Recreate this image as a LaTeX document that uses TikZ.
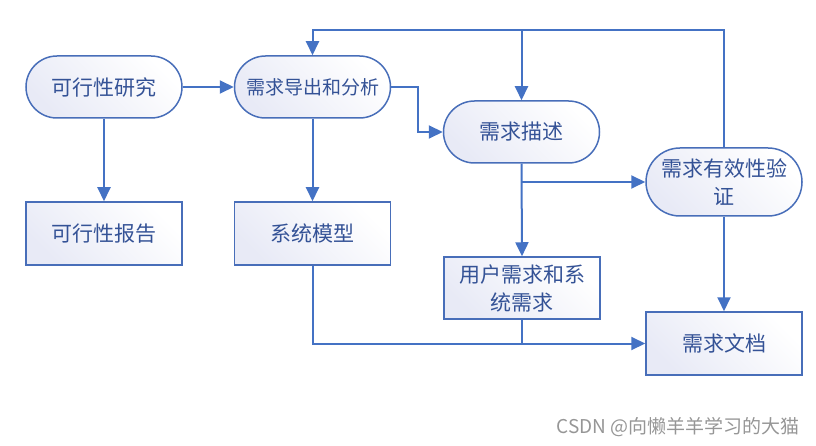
\documentclass[tikz,border=0pt]{standalone}
\usepackage{fontspec}
\setmainfont{Noto Sans CJK SC}
\usetikzlibrary{arrows.meta,calc}
\definecolor{lineblue}{RGB}{68,114,196}
\definecolor{edgeblue}{RGB}{72,110,185}
\definecolor{txtblue}{RGB}{52,82,150}
\definecolor{tint}{RGB}{232,234,246}
\definecolor{wmgray}{RGB}{150,150,150}
\tikzset{
  boxbase/.style={draw=edgeblue, line width=1.5pt, inner sep=0pt, align=center,
    text=txtblue, font=\fontsize{21}{28}\selectfont,
    minimum width=156pt, shading=axis, left color=tint, right color=white, shading angle=135},
  proc/.style={boxbase, rounded corners=31pt, minimum height=62pt},
  proctall/.style={boxbase, rounded corners=34pt, minimum height=68pt},
  doc/.style={boxbase, minimum height=63pt},
  conn/.style={draw=lineblue, line width=2pt},
  arr/.style={conn, -{Triangle[length=14pt,width=13pt]}}
}
\begin{document}
\begin{tikzpicture}[x=1pt,y=-1pt]
\useasboundingbox (0,0) rectangle (816,446);
\node[proc] (n1) at (104,87) {可行性研究};
\node[proc, font=\fontsize{19}{24}\selectfont] (n2) at (312.5,87) {需求导出和分析};
\node[doc] (n3) at (104,233.5) {可行性报告};
\node[doc] (n4) at (312.5,233.5) {系统模型};
\node[proc] (n5) at (521.5,132) {需求描述};
\node[proctall] (n6) at (724,182) {需求有效性验\\证};
\node[doc, minimum height=62pt] (n7) at (522,288) {用户需求和系\\统需求};
\node[doc] (n8) at (724,343.5) {需求文档};
\coordinate (tr) at (724,30);
\coordinate (bend) at (418,87);
\draw[arr] (n1.east) -- (n2.west);
\draw[arr] (n1.south) -- (n3.north);
\draw[arr] (n2.south) -- (n4.north);
\draw[arr] (n2.east) -- (bend) |- (n5.west);
\draw[arr] (n6.north) -- (tr) -| (n2.north);
\draw[arr] (n5.north |- tr) -- (n5.north);
\draw[arr] (n5.south) -- (n7.north);
\draw[arr] (n5.south |- n6.west) -- (n6.west);
\draw[arr] (n6.south) -- (n8.north);
\draw[arr] (n4.south) |- (n8.west);
\draw[conn] (n7.south) -- (n7.south |- n8.west);
\node[text=wmgray, font=\fontsize{19}{22}\selectfont, anchor=east, inner sep=0pt] (wm) at (800,427) {CSDN @向懒羊羊学习的大猫};
\end{tikzpicture}
\end{document}
